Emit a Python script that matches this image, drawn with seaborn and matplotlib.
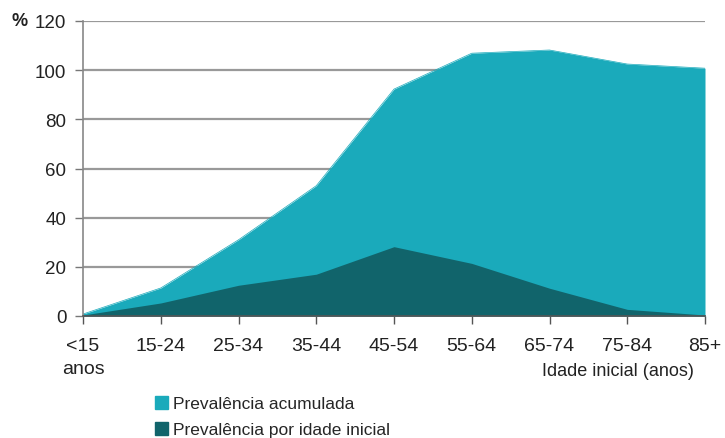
import pandas as pd
import matplotlib.pyplot as plt
import seaborn as sns
import numpy as np
from matplotlib.patches import Patch

# dados
idades = ["<15\nanos", "15-24", "25-34", "35-44", "45-54", "55-64", "65-74", "75-84", "85+"]
prev_acumulada = [0.8, 11.4, 31, 53, 92.3, 106.9, 108.2, 102.5, 100.8]
prev_idade_inicial = [0.4, 5.3, 12.5, 17, 28.2, 21.4, 11.3, 2.7, 0.4]
y_ticks = [0, 20, 40, 60, 80, 100, 120]

cor_clara = "#1AAABB"
cor_escura = "#11646B"

sns.set_style("white")
plt.rcParams['font.family'] = ['Liberation Sans', 'DejaVu Sans']

df = pd.DataFrame({"idade": idades,
                   "acumulada": prev_acumulada,
                   "inicial": prev_idade_inicial})

fig = plt.figure(figsize=(7.25, 4.39), dpi=100)
ax = fig.add_axes([83/725, 1-317/439, (705-83)/725, (317-22)/439])

sns.lineplot(data=df, x="idade", y="acumulada", color=cor_clara, lw=0.5, ax=ax, sort=False)
sns.lineplot(data=df, x="idade", y="inicial", color=cor_escura, lw=0.5, ax=ax, sort=False)
xpos = np.arange(len(idades))
ax.fill_between(xpos, 0, df["acumulada"], color=cor_clara, lw=0, zorder=2)
ax.fill_between(xpos, 0, df["inicial"], color=cor_escura, lw=0, zorder=3)

ax.set_xlim(0, len(idades)-1)
ax.set_ylim(0, 120)
ax.set_yticks(y_ticks)
ax.set_xticks(xpos)
ax.set_xticklabels(idades, fontsize=14, color="#222222", linespacing=1.45, va="top")
ax.tick_params(axis="y", labelsize=13.5, colors="#222222", length=6, width=1, color="#777777", pad=6, left=True)
ax.tick_params(axis="x", length=6, width=1, color="#555555", pad=9, bottom=True)
ax.set_xlabel("")
ax.set_ylabel("")
ax.yaxis.grid(True, color="#999999", lw=1.6, zorder=1)
ax.set_axisbelow(True)

sns.despine(ax=ax, top=True, right=True)
ax.spines["left"].set_color("#888888")
ax.spines["left"].set_linewidth(1.2)
ax.spines["bottom"].set_color("#555555")
ax.spines["bottom"].set_linewidth(1.2)
ax.spines["bottom"].set_zorder(4)

fig.text(12/725, 1-22/439, "%", fontsize=13, fontweight="bold", color="#222222", va="center", ha="left")
fig.text(694/725, 1-372/439, "Idade inicial (anos)", fontsize=13, color="#222222", va="center", ha="right")

handles = [Patch(color=cor_clara, label="Prevalência acumulada"),
           Patch(color=cor_escura, label="Prevalência por idade inicial")]
fig.legend(handles=handles, loc="upper left", bbox_to_anchor=(155/725, 1-397/439),
           frameon=False, fontsize=12.5, handlelength=0.75, handleheight=0.75,
           handletextpad=0.3, labelspacing=0.6, borderaxespad=0, borderpad=0)

fig.savefig("out.png", dpi=100)
